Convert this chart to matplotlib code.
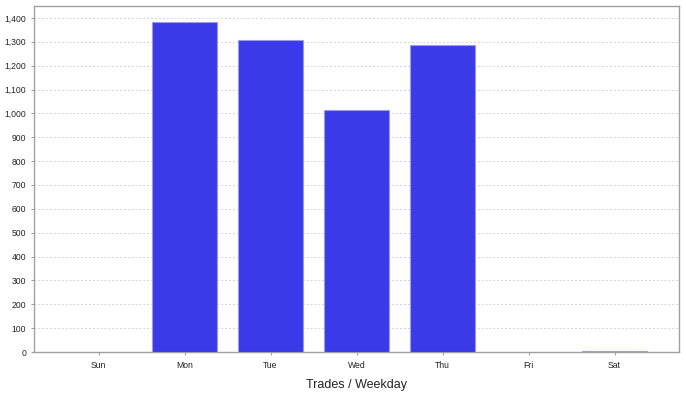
import numpy as np
import matplotlib
matplotlib.use("Agg")
from matplotlib import pyplot as plt
from matplotlib.ticker import FuncFormatter, MultipleLocator

# values
weekdays = ["Sun", "Mon", "Tue", "Wed", "Thu", "Fri", "Sat"]
trades = [0, 1383, 1308, 1014, 1287, 0, 3]

plt.rcParams["font.family"] = ["Liberation Sans", "DejaVu Sans"]

fig = plt.figure(figsize=(6.86, 3.96), dpi=100)
ax = fig.add_axes([34 / 686, 1 - 352 / 396, 645 / 686, 346 / 396])

x = np.arange(len(weekdays))
# no outline on empty days
lw = [0.8 if t > 0 else 0 for t in trades]
ax.bar(x, trades, width=0.745, color="#3a3ae8", edgecolor="#9a9af4",
       linewidth=lw, zorder=3)

ax.set_xlim(-0.75, 6.75)
ax.set_ylim(0, 1450)
ax.set_xticks(x)
ax.set_xticklabels(weekdays)
ax.yaxis.set_major_locator(MultipleLocator(100))
ax.yaxis.set_major_formatter(FuncFormatter(lambda v, p: f"{int(v):,}"))

ax.grid(axis="y", color="#d4d4d4", linestyle=(0, (2, 2)), linewidth=0.7, zorder=0)
for s in ax.spines.values():
    s.set_color("#a0a0a0")
    s.set_linewidth(1.0)

ax.tick_params(axis="both", labelsize=6.2, colors="#a0a0a0", labelcolor="#222222",
               length=2.5, width=0.8, pad=3)
ax.tick_params(axis="x", pad=4)

ax.set_xlabel("Trades / Weekday", fontsize=9, color="#222222", labelpad=6.5)

fig.savefig("out.png", dpi=100, facecolor="white")
